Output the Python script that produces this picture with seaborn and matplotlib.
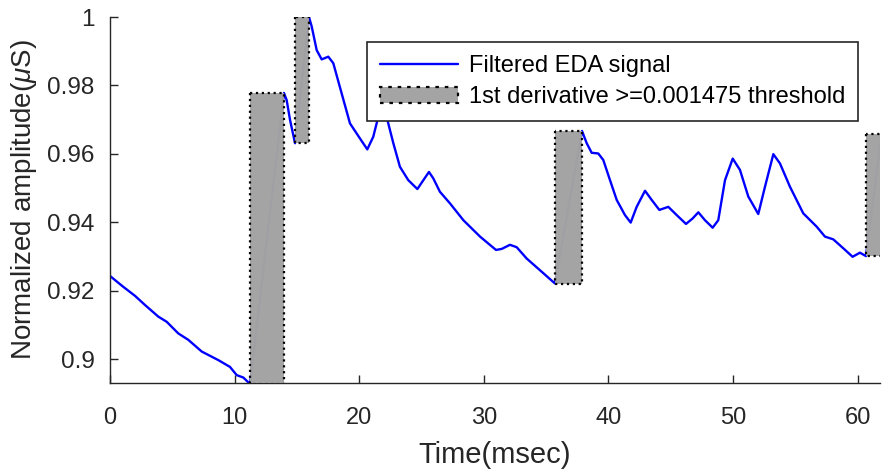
import numpy as np
import pandas as pd
import matplotlib
matplotlib.use("Agg")
import matplotlib.pyplot as plt
import seaborn as sns

# Filtered EDA signal (time in msec, normalized amplitude)
time_ms = [0.0, 1.0, 2.0, 2.81, 3.88, 4.55, 5.48, 6.29, 7.36, 8.69, 9.63, 10.17, 10.70, 11.24,
           13.96, 14.18, 14.45, 14.85,
           15.97, 16.19, 16.59, 16.99, 17.52, 17.92, 18.59, 19.26, 20.06, 20.65, 21.13, 21.53,
           21.9, 22.2, 22.74, 23.27, 23.94, 24.67, 25.15, 25.6, 25.95, 26.48, 27.29, 28.36,
           29.7, 30.98, 31.44, 32.1, 32.64, 33.44, 34.78, 35.71,
           37.88, 38.26, 38.66, 39.19, 39.59, 40.13, 40.67, 41.33, 41.79, 42.27, 42.94, 43.48,
           44.09, 44.81, 45.48, 46.23, 46.76, 47.22, 47.75, 48.37, 48.82, 49.36, 49.98, 50.56,
           51.23, 52.03, 52.57, 53.24, 53.77, 54.57, 55.64, 56.72, 57.38, 58.05, 58.85, 59.6,
           60.19, 60.67, 62.0]
amplitude = [0.9243, 0.9213, 0.9185, 0.9158, 0.9124, 0.9109, 0.9075, 0.9056, 0.9022, 0.8997,
             0.8977, 0.8953, 0.8946, 0.8927,
             0.9778, 0.9757, 0.9699, 0.9631,
             1.0, 0.9972, 0.9903, 0.9876, 0.9884, 0.9865, 0.9777, 0.9689, 0.9645, 0.9613, 0.9650,
             0.9708, 0.9745, 0.9708, 0.9631, 0.9562, 0.9523, 0.9497, 0.9523, 0.9547, 0.9528,
             0.9489, 0.9455, 0.9406, 0.9358, 0.9319, 0.9322, 0.9334, 0.9327, 0.9294, 0.9251,
             0.9221,
             0.9667, 0.9631, 0.9603, 0.9601, 0.9582, 0.9523, 0.9465, 0.9421, 0.9399, 0.9445,
             0.9492, 0.9465, 0.9436, 0.9445, 0.9421, 0.9395, 0.9411, 0.9429, 0.9406, 0.9384,
             0.9406, 0.9523, 0.9586, 0.9553, 0.9475, 0.9424, 0.9504, 0.9599, 0.9572, 0.9504,
             0.9426, 0.9387, 0.9358, 0.9350, 0.9324, 0.9299, 0.9311, 0.9301, 0.9680]

# Regions where 1st derivative >= threshold
region_start = [11.24, 14.85, 35.71, 60.67]
region_end = [13.96, 15.97, 37.88, 63.0]
region_low = [0.8927, 0.9632, 0.9219, 0.9301]
region_high = [0.9778, 1.0, 0.9667, 0.9658]

x_ticks = [0, 10, 20, 30, 40, 50, 60]
y_ticks = [0.9, 0.92, 0.94, 0.96, 0.98, 1.0]
y_tick_labels = ["0.9", "0.92", "0.94", "0.96", "0.98", "1"]

sns.set_theme(style="ticks")
plt.rcParams['font.family'] = ['Liberation Sans', 'DejaVu Sans']
plt.rcParams['mathtext.fontset'] = 'custom'
plt.rcParams['mathtext.it'] = 'Liberation Sans:italic'
plt.rcParams['mathtext.rm'] = 'Liberation Sans'

dark = '#262626'
fig = plt.figure(figsize=(8.82, 4.75), dpi=100)
ax = fig.add_axes([110/882, 1-383/475, 770/882, 366/475])

df = pd.DataFrame({"t": time_ms, "a": amplitude})
sns.lineplot(data=df, x="t", y="a", ax=ax, color='#0000ff', lw=1.7,
             label='Filtered EDA signal', sort=False, estimator=None, zorder=2)

for i, (x0, x1, y0, y1) in enumerate(zip(region_start, region_end, region_low, region_high)):
    ax.fill_between([x0, x1], [y0, y0], [y1, y1], facecolor=(0.64, 0.64, 0.64), alpha=0.985,
                    edgecolor='black', linestyle=':', linewidth=1.6, zorder=3,
                    label='1st derivative >=0.001475 threshold' if i == 0 else None)

ax.set_xlim(0, 61.8)
ax.set_ylim(0.893, 1.0)
ax.set_xticks(x_ticks)
ax.set_yticks(y_ticks)
ax.set_yticklabels(y_tick_labels)
ax.tick_params(direction='in', length=6, width=1, colors=dark)
ax.tick_params(axis='y', labelsize=17.5, pad=11)
ax.tick_params(axis='x', labelsize=17, pad=17)
for s in ['top', 'right']:
    ax.spines[s].set_visible(False)
for s in ['left', 'bottom']:
    ax.spines[s].set_color(dark)
    ax.spines[s].set_linewidth(1)

ax.set_xlabel('Time(msec)', fontsize=21, color=dark, labelpad=9)
ax.set_ylabel(r'Normalized amplitude($\mu$S)', fontsize=20, color=dark, labelpad=6)

leg = ax.legend(loc='upper left', bbox_to_anchor=(257/770, 1 - 25/366),
                bbox_transform=ax.transAxes, fontsize=17, frameon=True, fancybox=False,
                edgecolor=dark, handlelength=3.3, handleheight=0.7, borderpad=0.55,
                labelspacing=0.4, handletextpad=0.45, borderaxespad=0)
leg.get_frame().set_linewidth(1.2)
leg.get_frame().set_alpha(1)
leg.set_zorder(5)
for t in leg.get_texts():
    t.set_color('black')

fig.savefig('out.png', dpi=100)
